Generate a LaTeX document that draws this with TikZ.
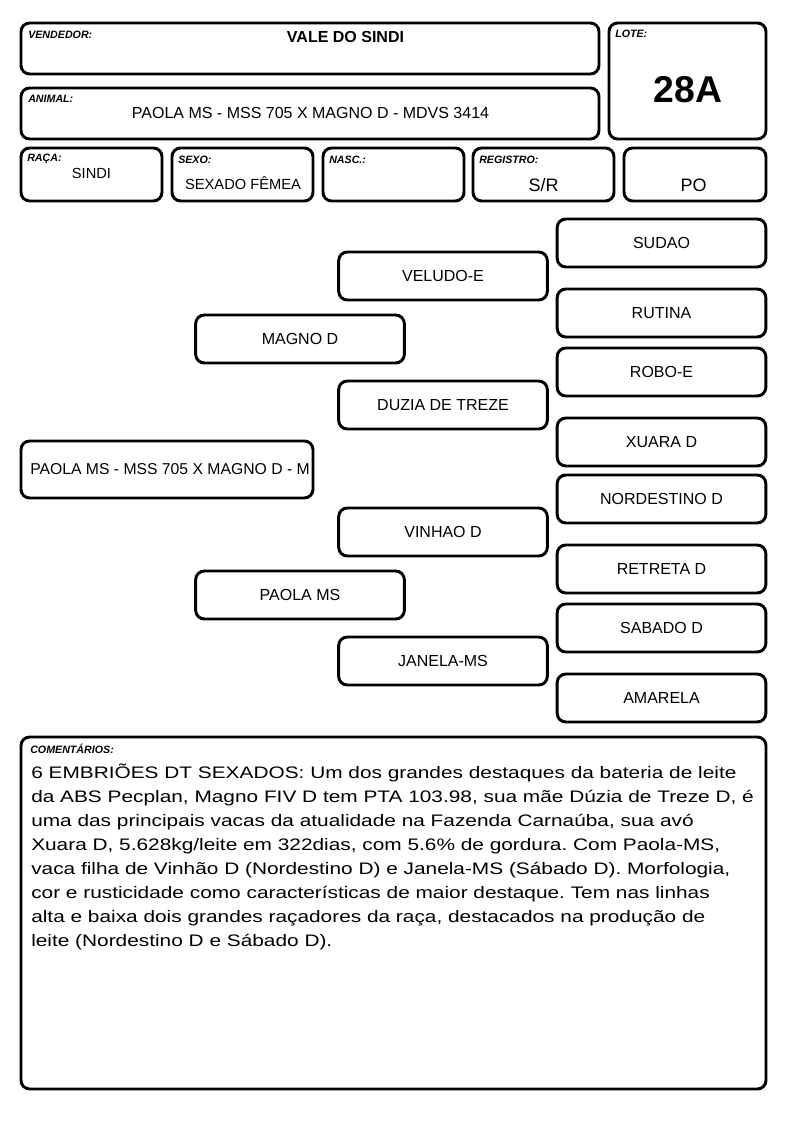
\documentclass[tikz,border=0pt]{standalone}
\usepackage{fontspec}
\setmainfont{Liberation Sans}
\newfontfamily\notefont{Liberation Sans}[FakeStretch=1.25]
\frenchspacing

\tikzset{
  cardbox/.style={draw, line width=2.2pt, rounded corners=6.5pt},
  tag/.style={anchor=base west, inner sep=0pt, font=\fontsize{8}{9}\selectfont\bfseries\itshape},
  entry/.style={anchor=base, inner sep=0pt, font=\fontsize{11}{13}\selectfont},
  pedbox/.style={cardbox, minimum width=156.5pt, minimum height=36pt, inner sep=0pt,
    font=\fontsize{12}{14}\selectfont},
}

\begin{document}
\begin{tikzpicture}[x=0.75pt, y=-0.75pt]
\useasboundingbox (0,0) rectangle (794,1123);
% header boxes
\draw[cardbox] (21,23) rectangle (599,74);
\draw[cardbox] (21,88) rectangle (599,139);
\draw[cardbox] (609,23) rectangle (766,139);
\draw[cardbox] (21,148) rectangle (162,201);
\draw[cardbox] (172,148) rectangle (313,201);
\draw[cardbox] (323,148) rectangle (464,201);
\draw[cardbox] (473,148) rectangle (614,201);
\draw[cardbox] (624,148) rectangle (766,201);
\node[tag] (vendlbl) at (28,39) {VENDEDOR:};
\node[tag] (animlbl) at (28,103) {ANIMAL:};
\node[tag] (lotelbl) at (615,38) {LOTE:};
\node[tag] (racalbl) at (27,162) {RAÇA:};
\node[tag] (sexolbl) at (178,164) {SEXO:};
\node[tag] (nasclbl) at (329,164) {NASC.:};
\node[tag] (reglbl) at (479,164) {REGISTRO:};
\node[entry, font=\fontsize{12}{14}\selectfont\bfseries] (vendor) at (345.5,43) {VALE DO SINDI};
\node[entry, font=\fontsize{12}{14}\selectfont] (animal) at (310.5,119)
    {PAOLA MS - MSS 705 X MAGNO D - MDVS 3414};
\node[entry, font=\fontsize{28}{32}\selectfont\bfseries] (lote) at (688,103) {28A};
\node[entry] (raca) at (91.5,179) {SINDI};
\node[entry] (sexo) at (243,190) {SEXADO FÊMEA};
\node[entry, font=\fontsize{13.5}{16}\selectfont] (registro) at (543.5,192) {S/R};
\node[entry, font=\fontsize{13.5}{16}\selectfont] (po) at (693.5,192) {PO};

% pedigree
\node[pedbox, minimum width=219pt, minimum height=42.75pt] (subject) at (167,469.5) {};
\node[anchor=west, inner sep=0pt, font=\fontsize{11.8}{14}\selectfont] (subjectname)
    at (30,469.5) {PAOLA MS - MSS 705 X MAGNO D - M};
\node[pedbox] (magno) at (300,339) {MAGNO D};
\node[pedbox] (paola) at (300,595) {PAOLA MS};
\node[pedbox] (veludo) at (443,276) {VELUDO-E};
\node[pedbox] (duzia) at (443,405) {DUZIA DE TREZE};
\node[pedbox] (vinhao) at (443,532) {VINHAO D};
\node[pedbox] (janela) at (443,661) {JANELA-MS};
\node[pedbox] (sudao) at (661.5,243) {SUDAO};
\node[pedbox] (rutina) at (661.5,313) {RUTINA};
\node[pedbox] (robo) at (661.5,372) {ROBO-E};
\node[pedbox] (xuara) at (661.5,442) {XUARA D};
\node[pedbox] (nordestino) at (661.5,499) {NORDESTINO D};
\node[pedbox] (retreta) at (661.5,569) {RETRETA D};
\node[pedbox] (sabado) at (661.5,628) {SABADO D};
\node[pedbox] (amarela) at (661.5,698) {AMARELA};

% comments
\draw[cardbox] (21,737) rectangle (766,1089);
\node[tag] (notelbl) at (30,753) {COMENTÁRIOS:};
\node[anchor=north west, inner sep=0pt, align=left,
      font=\notefont\fontsize{12.5}{18}\selectfont] (notes) at (31,764)
  {6 EMBRIÕES DT SEXADOS: Um dos grandes destaques da bateria de leite\\
   da ABS Pecplan, Magno FIV D tem PTA 103.98, sua mãe Dúzia de Treze D, é\\
   uma das principais vacas da atualidade na Fazenda Carnaúba, sua avó\\
   Xuara D, 5.628kg/leite em 322dias, com 5.6\% de gordura. Com Paola-MS,\\
   vaca filha de Vinhão D (Nordestino D) e Janela-MS (Sábado D). Morfologia,\\
   cor e rusticidade como características de maior destaque. Tem nas linhas\\
   alta e baixa dois grandes raçadores da raça, destacados na produção de\\
   leite (Nordestino D e Sábado D).};
\end{tikzpicture}
\end{document}
